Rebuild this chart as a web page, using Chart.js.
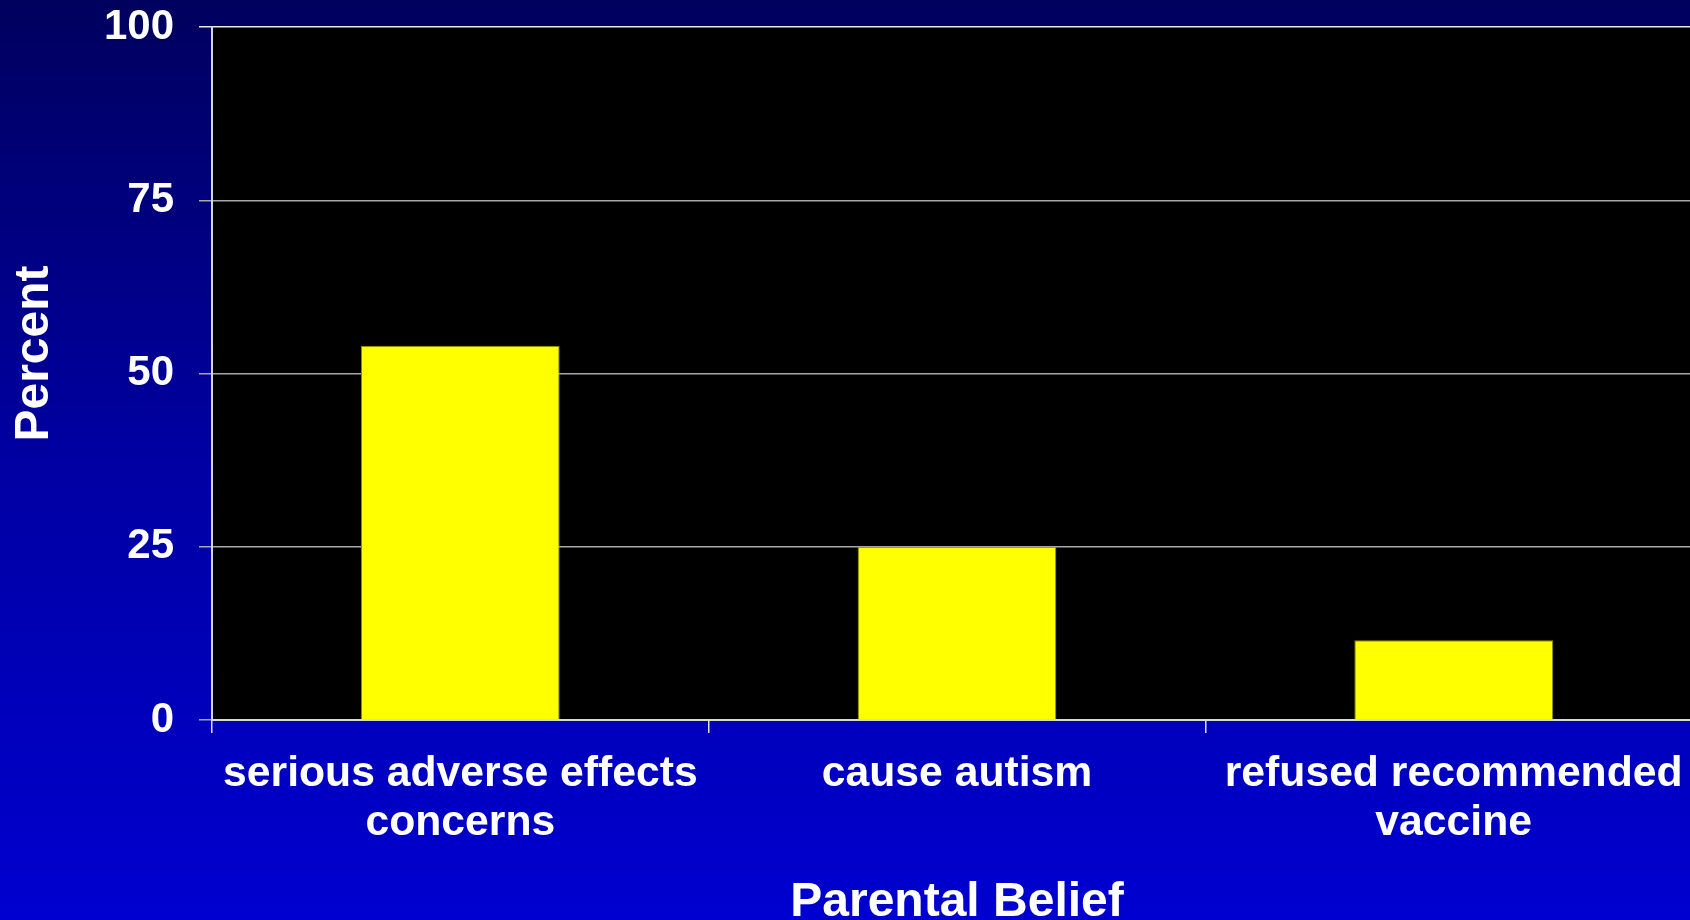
<!DOCTYPE html>
<html>
<head>
<meta charset="utf-8">
<script src="https://cdn.jsdelivr.net/npm/chart.js@4"></script>
<style>
  html, body {
    margin: 0;
    padding: 0;
    width: 1690px;
    height: 920px;
    overflow: hidden;
    background: linear-gradient(to bottom, #00005e 0%, #0000a2 50%, #0000d0 100%);
  }
  #wrap {
    position: absolute;
    left: 0;
    top: 0;
    width: 1702px;
    height: 920px;
  }
</style>
</head>
<body>
<div id="wrap"><canvas id="belief-chart"></canvas></div>
<script>
// survey answers, one bar per belief
const beliefs = [["serious adverse effects", "concerns"], "cause autism", ["refused recommended", "vaccine"]];
const percents = [54, 25, 11.5];
const percentTicks = [0, 25, 50, 75, 100];

const FONT = "'Liberation Sans', Arial, sans-serif";

// black plot background
const plotBackground = {
    id: "plotBackground",
    beforeDraw(chart) {
        const {ctx, chartArea} = chart;
        ctx.save();
        ctx.fillStyle = "#000000";
        ctx.fillRect(chartArea.left, chartArea.top, chartArea.right - chartArea.left, chartArea.bottom - chartArea.top);
        ctx.restore();
    }
};

let c = document.getElementById("belief-chart").getContext("2d");

var chart = new Chart(c, {
    type: "bar",
    data: {
        labels: beliefs,
        datasets: [{
            data: percents,
            backgroundColor: "#ffff00",
            borderColor: "#8a8a00",
            borderWidth: 1,
            barPercentage: 0.4,
            categoryPercentage: 1.0
        }]
    },
    options: {
        responsive: true,
        maintainAspectRatio: false,
        animation: false,
        layout: {
            padding: {top: 27, right: 0, bottom: 0, left: 0}
        },
        plugins: {
            legend: {display: false},
            tooltip: {enabled: false}
        },
        scales: {
            x: {
                afterFit(scale) { scale.height = 200; },
                grid: {
                    drawOnChartArea: false,
                    drawTicks: true,
                    tickLength: 13,
                    color: "#e0e0e0",
                    lineWidth: 1.5
                },
                border: {color: "#d8d8d8", width: 2},
                ticks: {
                    color: "#ffffff",
                    padding: 16,
                    maxRotation: 0,
                    autoSkip: false,
                    font: {family: FONT, size: 42.7, weight: "bold", lineHeight: 1.16}
                },
                title: {
                    display: true,
                    text: "Parental Belief",
                    color: "#ffffff",
                    padding: {top: 0, bottom: 0},
                    font: {family: FONT, size: 48, weight: "bold", lineHeight: 0.72}
                }
            },
            y: {
                min: 0,
                max: 100,
                afterFit(scale) {
                    scale.width = 212;
                    // the top label may poke above the plot, no extra room needed
                    scale.paddingTop = 0;
                    scale.paddingBottom = 0;
                },
                afterBuildTicks(scale) {
                    scale.ticks = percentTicks.map(v => ({value: v}));
                },
                grid: {
                    drawTicks: true,
                    tickLength: 13,
                    lineWidth: 1.5,
                    color: (ctx) => (ctx.tick && ctx.tick.value === 100) ? "#e8e8e8" : "#a8a8a8"
                },
                border: {color: "#d8d8d8", width: 2},
                ticks: {
                    color: "#ffffff",
                    padding: 25,
                    font: {family: FONT, size: 42, weight: "bold"}
                },
                title: {
                    display: true,
                    // leading spaces lift the rotated title a little above the axis middle
                    text: "   Percent",
                    color: "#ffffff",
                    padding: {top: 11, bottom: 0},
                    font: {family: FONT, size: 48, weight: "bold", lineHeight: 1}
                }
            }
        }
    },
    plugins: [plotBackground]
});
</script>
</body>
</html>
